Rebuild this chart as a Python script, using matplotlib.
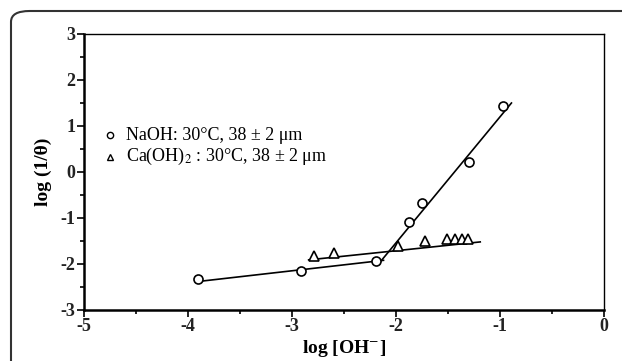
import numpy as np
import matplotlib.pyplot as plt
from matplotlib.patches import FancyBboxPatch

plt.rcParams['font.family'] = ['Liberation Serif', 'DejaVu Serif']
plt.rcParams['mathtext.fontset'] = 'stix'
plt.rcParams['axes.unicode_minus'] = False

# NaOH data (circles) and fitted segments
naoh_x = [-3.9, -2.91, -2.19, -1.875, -1.75, -1.30, -0.97]
naoh_y = [-2.33, -2.15, -1.93, -1.09, -0.68, 0.22, 1.43]
naoh_fit1_x = [-3.9, -2.12]
naoh_fit1_y = [-2.38, -1.92]
naoh_fit2_x = [-2.15, -0.89]
naoh_fit2_y = [-1.95, 1.50]

# Ca(OH)2 data (triangles) and fitted line
caoh_x = [-2.79, -2.60, -1.98, -1.72, -1.51, -1.43, -1.37, -1.31]
caoh_y = [-1.83, -1.75, -1.60, -1.51, -1.46, -1.45, -1.45, -1.45]
caoh_fit_x = [-2.84, -1.19]
caoh_fit_y = [-1.91, -1.52]

fig = plt.figure(figsize=(6.22, 3.61), dpi=100)

# rounded frame round the figure (clipped by the image edge)
frame = FancyBboxPatch((11/622, -0.5), 1.5, 1.5 - 11/361,
                       boxstyle="round,pad=0,rounding_size=0.03",
                       transform=fig.transFigure, fill=False,
                       edgecolor='#333333', linewidth=1.5)
fig.patches.append(frame)

ax = fig.add_axes([84/622, 1 - 310/361, 520/622, 276/361])

ax.plot(naoh_fit1_x, naoh_fit1_y, color='black', lw=1.2, zorder=2)
ax.plot(naoh_fit2_x, naoh_fit2_y, color='black', lw=1.2, zorder=2)
ax.plot(caoh_fit_x, caoh_fit_y, color='black', lw=1.2, zorder=2)

ax.plot(naoh_x, naoh_y, 'o', ms=6.5, mfc='white', mec='black', mew=1.2, zorder=3)
ax.plot(caoh_x, caoh_y, '^', ms=6.5, mfc='white', mec='black', mew=1.2, zorder=3)

ax.set_xlim(-5, 0)
ax.set_ylim(-3, 3)
ax.set_xticks([-5, -4, -3, -2, -1, 0])
ax.set_yticks([-3, -2, -1, 0, 1, 2, 3])
ax.set_xticks(np.arange(-4.5, 0, 1), minor=True)
ax.set_yticks(np.arange(-2.5, 3, 1), minor=True)
ax.tick_params(which='major', direction='out', length=5, width=1.2, labelsize=13, pad=1)
ax.tick_params(which='minor', direction='out', length=3, width=1.2)
for lab in ax.get_xticklabels() + ax.get_yticklabels():
    lab.set_fontweight('bold')
    lab.set_color('#222222')

ax.spines['left'].set_linewidth(1.8)
ax.spines['bottom'].set_linewidth(1.8)
ax.spines['top'].set_linewidth(1.0)
ax.spines['right'].set_linewidth(1.0)

ax.set_xlabel('log [OH$^{-}$]', fontsize=14, fontweight='bold', labelpad=2)
ax.set_ylabel('log (1/θ)', fontsize=14, fontweight='bold', labelpad=6)

# legend drawn by hand, matching the placement in the reference
ax.plot([-4.75], [0.80], 'o', ms=4.5, mfc='white', mec='black', mew=1.0,
        clip_on=False)
ax.text(-4.6, 0.80, 'NaOH: 30°C, 38 ± 2 μm', fontsize=13, va='center')
ax.plot([-4.75], [0.33], '^', ms=4.5, mfc='white', mec='black', mew=1.0,
        clip_on=False)
ax.text(-4.6, 0.33, 'Ca(OH)$_2$ : 30°C, 38 ± 2 μm', fontsize=13, va='center')

fig.savefig('out.png', dpi=100)
